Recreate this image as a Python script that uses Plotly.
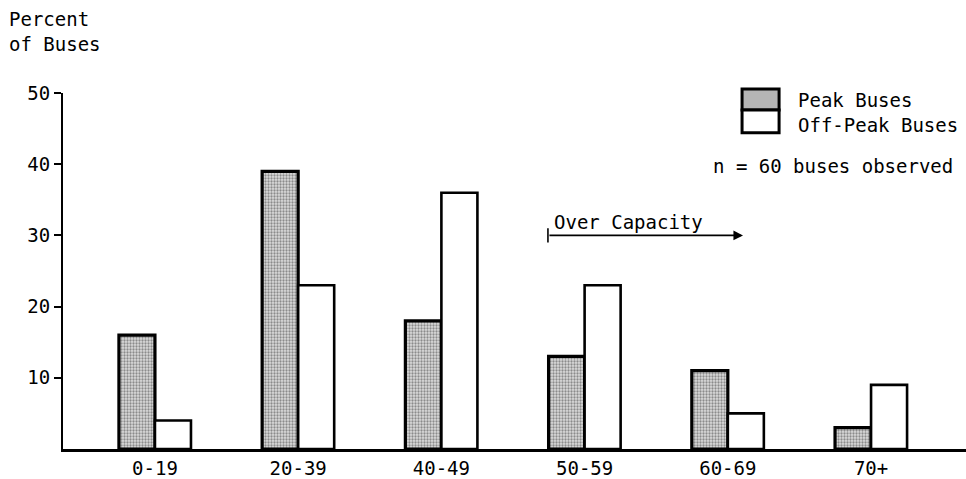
import plotly.graph_objects as go

# ---- data ----
categories = ["0-19", "20-39", "40-49", "50-59", "60-69", "70+"]
peak_buses = [16, 39, 18, 13, 11, 3]
offpeak_buses = [4, 23, 36, 23, 5, 9]
y_ticks = [10, 20, 30, 40, 50]

FONT = "DejaVu Sans Mono"
FS = 19

fig = go.Figure()
fig.add_trace(go.Bar(
    x=categories, y=peak_buses, name="Peak Buses",
    marker=dict(color="white",
                pattern=dict(shape=".", fgcolor="#3a3a3a", bgcolor="#dcdcdc", size=3, solidity=0.45),
                line=dict(color="black", width=3.2)),
))
fig.add_trace(go.Bar(
    x=categories, y=offpeak_buses, name="Off-Peak Buses",
    marker=dict(color="white", line=dict(color="black", width=2.6)),
))

fig.update_layout(
    width=966, height=479,
    margin=dict(l=63, r=0, t=93, b=30),
    paper_bgcolor="white", plot_bgcolor="white",
    barmode="group", bargap=0.497, bargroupgap=0,
    showlegend=False,
    font=dict(family=FONT, size=FS, color="black"),
    xaxis=dict(
        type="category", range=[-0.642, 5.663],
        showline=True, linecolor="black", linewidth=3,
        ticks="", showgrid=False, zeroline=False,
        tickfont=dict(family=FONT, size=FS, color="black"),
    ),
    yaxis=dict(
        range=[0, 50], tickvals=y_ticks, ticktext=[str(v) for v in y_ticks],
        showline=True, linecolor="black", linewidth=2,
        ticks="outside", ticklen=7, tickwidth=2, tickcolor="black",
        showgrid=False, zeroline=False,
        tickfont=dict(family=FONT, size=FS, color="black"),
    ),
)

ann = []
# y-axis title
ann.append(dict(text="Percent<br>of Buses", xref="paper", yref="paper",
                x=-0.062, y=1.245, xanchor="left", yanchor="top", align="left",
                showarrow=False, font=dict(family=FONT, size=FS)))
# legend texts
ann.append(dict(text="Peak Buses<br>Off-Peak Buses", xref="paper", yref="paper", x=0.812, y=0.946,
                xanchor="left", yanchor="middle", align="left", showarrow=False,
                font=dict(family=FONT, size=FS)))
ann.append(dict(text="n = 60 buses observed", xref="paper", yref="paper", x=0.718, y=0.795,
                xanchor="left", yanchor="middle", showarrow=False, font=dict(family=FONT, size=FS)))
# over capacity
ann.append(dict(text="Over Capacity", xref="x", yref="y", x=2.77, y=31.9,
                xanchor="left", yanchor="middle", showarrow=False, font=dict(family=FONT, size=FS)))
ann.append(dict(text="", xref="x", yref="y", x=4.106, y=30, axref="x", ayref="y",
                ax=2.744, ay=30, showarrow=True, arrowhead=2, arrowsize=1.2,
                arrowwidth=1.6, arrowcolor="black"))
fig.update_layout(annotations=ann)

shapes = []
# over-capacity left tick
shapes.append(dict(type="line", xref="x", yref="y", x0=2.744, x1=2.744, y0=29.0, y1=31.0,
                   line=dict(color="black", width=1.6)))
# legend swatches
shapes.append(dict(type="rect", xref="paper", yref="paper", x0=0.752, x1=0.793, y0=0.952, y1=1.011,
                   fillcolor="#b5b5b5", line=dict(color="black", width=3)))
shapes.append(dict(type="rect", xref="paper", yref="paper", x0=0.752, x1=0.793, y0=0.888, y1=0.952,
                   fillcolor="white", line=dict(color="black", width=3)))
fig.update_layout(shapes=shapes)

fig.write_html("out.html", config={"displayModeBar": False},
               post_script="document.body.style.margin='0';document.body.style.padding='0';")
